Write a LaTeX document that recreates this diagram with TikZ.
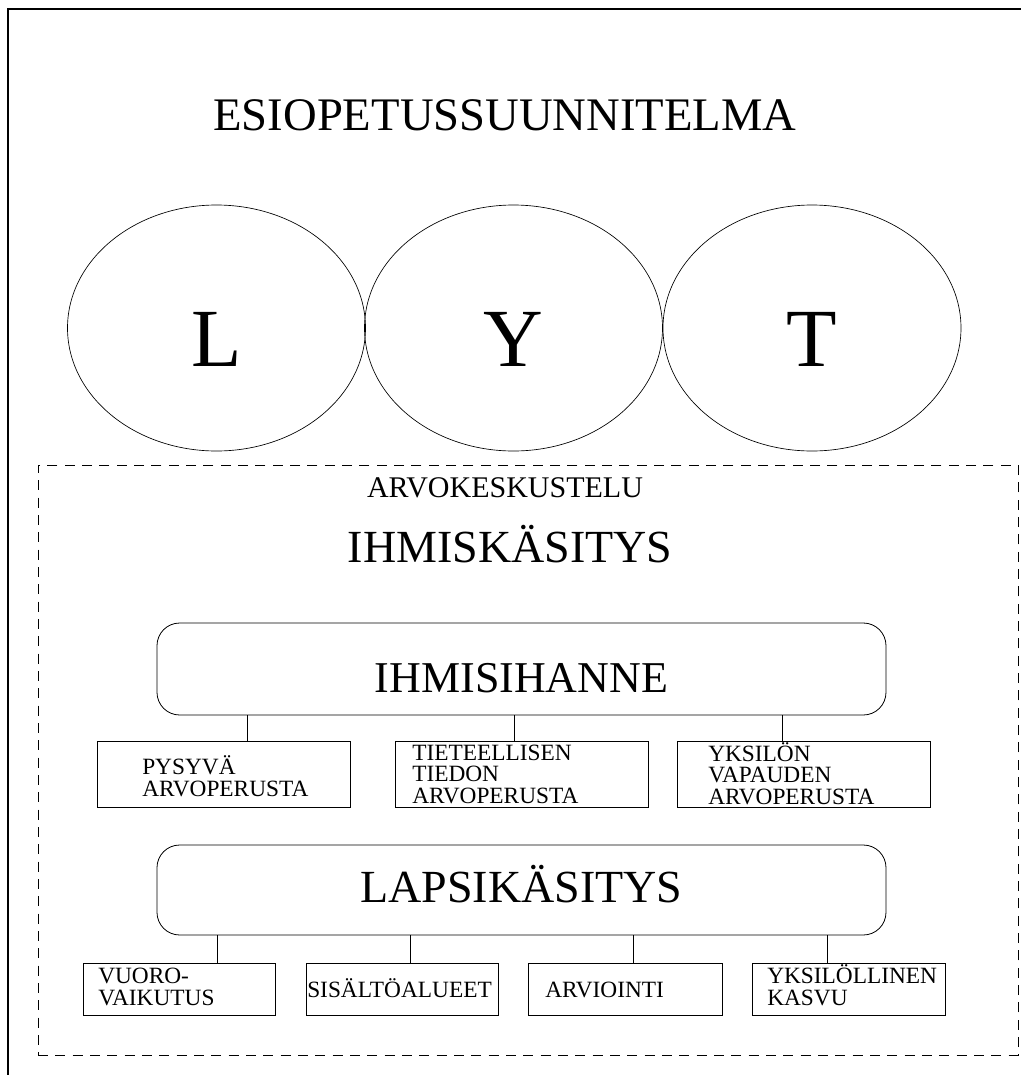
\documentclass[tikz,border=0pt]{standalone}
\usepackage{fontspec}
\setmainfont{Liberation Serif}
\usetikzlibrary{shapes.geometric,fit}

\begin{document}
\begin{tikzpicture}[x=0.75pt,y=-0.75pt,
  lyt/.style={draw, ellipse, line width=0.5pt, inner sep=0pt, minimum width=223.5pt, minimum height=184.5pt, text height=57pt, text depth=0pt, font=\fontsize{62}{62}\selectfont},
  bigbox/.style={draw, rounded corners=17pt, line width=0.6pt, inner sep=0pt, minimum width=546.75pt, text depth=0pt},
  smallbox/.style={draw, line width=0.6pt, inner sep=0pt},
  boxtext/.style={inner sep=0pt, align=left, anchor=base west, font=\fontsize{17.5}{16}\selectfont},
  dashframe/.style={draw, dash pattern=on 7.5pt off 5.5pt, line width=0.6pt, inner sep=0pt}]
\useasboundingbox (0,0) rectangle (1021,1075);
% Kehys
\draw[line width=1pt] (1021,9) -- (8,9) -- (8,1075);
% Otsikko
\node[font=\fontsize{35}{40}\selectfont, anchor=base, inner sep=0pt] (title) at (505,130) {ESIOPETUSSUUNNITELMA};
% L, Y, T
\node[lyt] (L) at (216.5,328) {L};
\node[lyt] (Y) at (513.5,328) {Y};
\node[lyt] (T) at (812,328) {T};
% Arvokeskustelu (katkoviiva)
\node[dashframe, fit={(38,465) (1018,1055)}] (arvo) {};
\node[font=\fontsize{22.5}{25}\selectfont, anchor=base, inner sep=0pt] (arvotext) at (505,497) {ARVOKESKUSTELU};
\node[font=\fontsize{34.5}{40}\selectfont, anchor=base, inner sep=0pt] (ihmiskas) at (510,562) {IHMISKÄSITYS};
% Ihmisihanne
\node[bigbox, minimum height=69pt, text height=34.5pt, font=\fontsize{33}{38}\selectfont] (ihanne) at (521.5,669) {IHMISIHANNE};
\node[smallbox, fit={(97,741) (350,807)}] (p1) {};
\node[smallbox, fit={(395,741) (648,807)}] (p2) {};
\node[smallbox, fit={(677,741) (930,807)}] (p3) {};
% (base = viimeisen rivin perusviiva)
\node[boxtext] (p1t) at (142,796) {PYSYVÄ\\ARVOPERUSTA};
\node[boxtext] (p2t) at (412,803) {TIETEELLISEN\\TIEDON\\ARVOPERUSTA};
\node[boxtext] (p3t) at (708,804) {YKSILÖN\\VAPAUDEN\\ARVOPERUSTA};
\coordinate (p1c) at (247,741);
\coordinate (p2c) at (514,741);
\coordinate (p3c) at (782,741);
\foreach \c in {p1c,p2c,p3c}
  \draw[line width=0.6pt] (\c) -- (\c |- ihanne.south);
% Lapsikasitys
\node[bigbox, minimum height=67.5pt, text height=18pt, font=\fontsize{34.5}{40}\selectfont] (lapsi) at (521.5,890) {LAPSIKÄSITYS};
\node[smallbox, fit={(83,963) (275,1015)}] (q1) {};
\node[smallbox, fit={(306,963) (498,1015)}] (q2) {};
\node[smallbox, fit={(528,963) (722,1015)}] (q3) {};
\node[smallbox, fit={(752,963) (945,1015)}] (q4) {};
\node[boxtext] (q1t) at (98,1005) {VUORO-\\VAIKUTUS};
\node[boxtext] (q2t) at (307,997) {SISÄLTÖALUEET};
\node[boxtext] (q3t) at (545,997) {ARVIOINTI};
\node[boxtext] (q4t) at (767,1005) {YKSILÖLLINEN\\KASVU};
\coordinate (q1c) at (217,963);
\coordinate (q2c) at (410,963);
\coordinate (q3c) at (633,963);
\coordinate (q4c) at (827,963);
\foreach \c in {q1c,q2c,q3c,q4c}
  \draw[line width=0.6pt] (\c) -- (\c |- lapsi.south);
\end{tikzpicture}
\end{document}
